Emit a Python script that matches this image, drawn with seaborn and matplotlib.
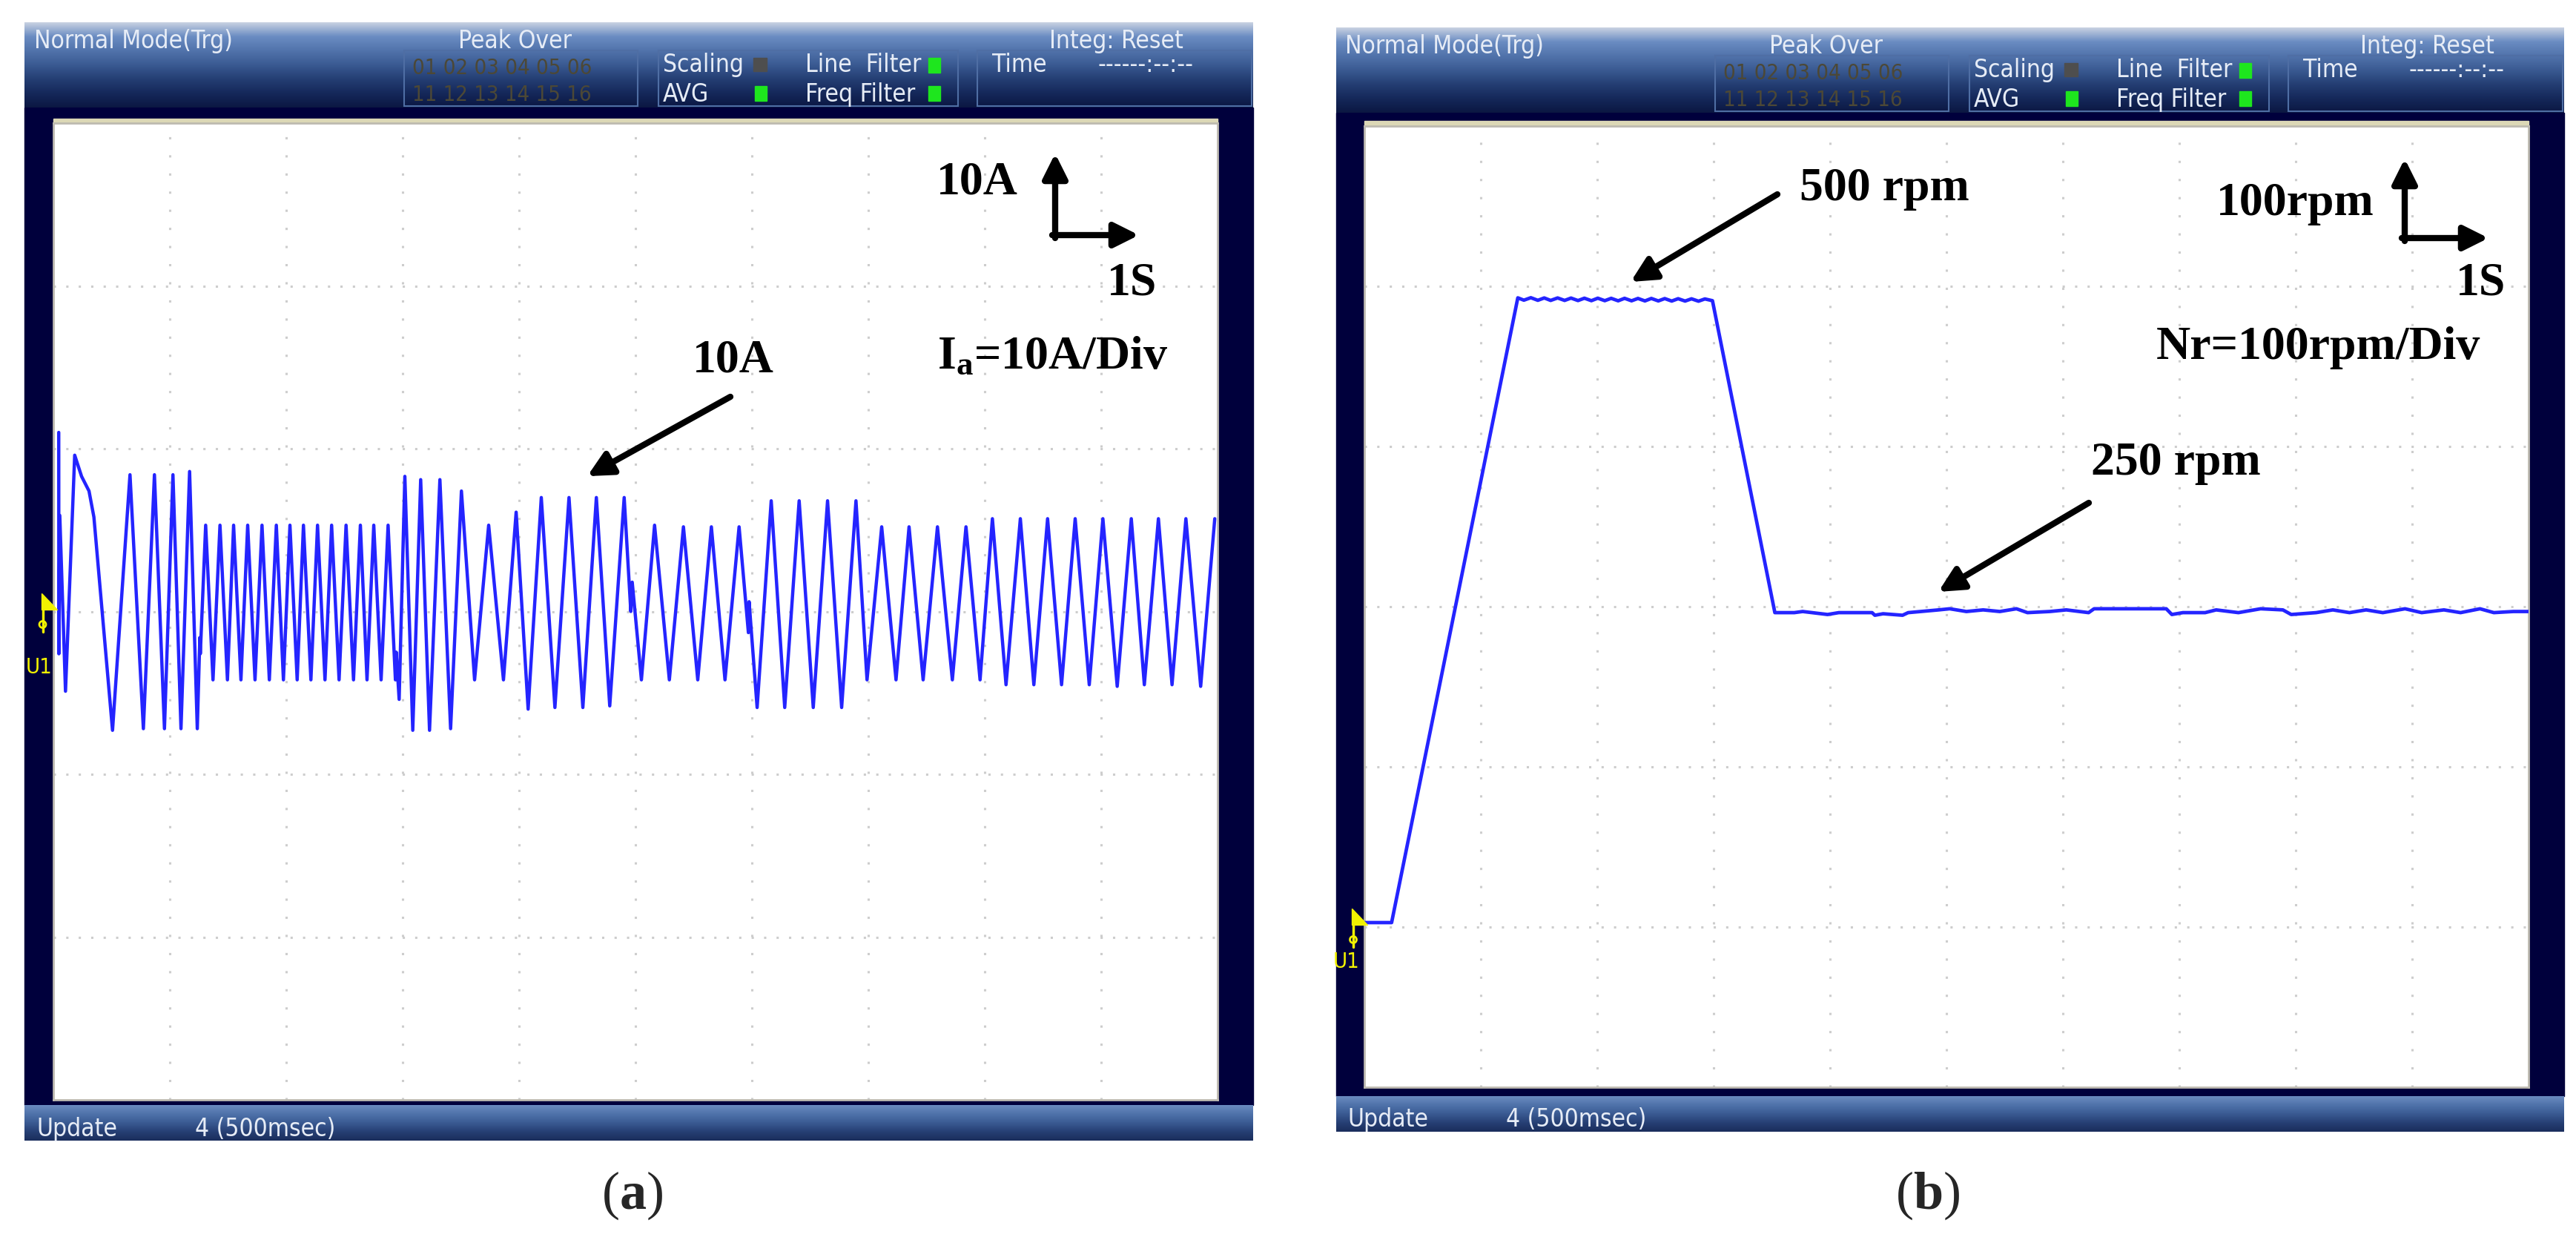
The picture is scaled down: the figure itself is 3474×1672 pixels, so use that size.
import numpy as np
import pandas as pd
import matplotlib
matplotlib.use("Agg")
import matplotlib.pyplot as plt
from matplotlib import font_manager
from matplotlib.font_manager import FontProperties
from matplotlib.colors import LinearSegmentedColormap
from matplotlib.patches import Rectangle, Polygon, Circle
import seaborn as sns

# ---- values read off the two scope screens ----
# (a) phase current, turning points of the trace: time in s (1 s/div), current in A (10 A/div)
current_t = [
    0.046, 0.047, 0.055, 0.104, 0.183, 0.242, 0.306, 0.348, 0.508, 0.658,
    0.773, 0.868, 0.954, 1.027, 1.096, 1.170, 1.236, 1.258, 1.262, 1.308,
    1.371, 1.431, 1.495, 1.548, 1.611, 1.669, 1.732, 1.792, 1.855, 1.915,
    1.976, 2.032, 2.094, 2.148, 2.212, 2.269, 2.333, 2.390, 2.454, 2.514,
    2.578, 2.637, 2.694, 2.752, 2.815, 2.875, 2.938, 2.945, 2.970, 3.019,
    3.087, 3.155, 3.231, 3.320, 3.412, 3.505, 3.618, 3.739, 3.866, 3.975,
    4.078, 4.191, 4.308, 4.429, 4.548, 4.664, 4.779, 4.903, 4.960, 4.972,
    5.051, 5.164, 5.291, 5.412, 5.535, 5.652, 5.769, 5.890, 5.970, 5.976,
    6.045, 6.166, 6.282, 6.406, 6.527, 6.650, 6.771, 6.894, 6.989, 7.115,
    7.238, 7.350, 7.471, 7.594, 7.722, 7.839, 7.960, 8.066, 8.183, 8.306,
    8.422, 8.540, 8.660, 8.777, 8.898, 9.015, 9.138, 9.259, 9.371, 9.492,
    9.609, 9.728, 9.855, 9.976,
]
current_a = [
    11.0, -2.6, 5.9, -4.9, 9.6, 8.3, 7.4, 5.8, -7.3, 8.4,
    -7.2, 8.4, -7.2, 8.4, -7.2, 8.6, -7.2, -1.6, -2.6, 5.3,
    -4.2, 5.3, -4.2, 5.3, -4.2, 5.3, -4.2, 5.3, -4.2, 5.3,
    -4.2, 5.3, -4.2, 5.3, -4.2, 5.3, -4.2, 5.3, -4.2, 5.3,
    -4.2, 5.3, -4.2, 5.3, -4.2, 5.3, -4.2, -2.5, -5.4, 8.3,
    -7.3, 8.1, -7.3, 8.1, -7.2, 7.4, -4.2, 5.3, -4.2, 6.1,
    -6.0, 7.0, -5.9, 7.0, -5.9, 7.0, -5.8, 7.0, 0.0, 1.8,
    -4.2, 5.3, -4.2, 5.2, -4.2, 5.2, -4.2, 5.2, -1.3, 0.6,
    -5.9, 6.8, -5.9, 6.8, -5.9, 6.8, -5.9, 6.8, -4.2, 5.2,
    -4.2, 5.2, -4.2, 5.2, -4.2, 5.2, -4.2, 5.7, -4.5, 5.7,
    -4.5, 5.7, -4.5, 5.7, -4.5, 5.7, -4.6, 5.7, -4.5, 5.7,
    -4.5, 5.7, -4.6, 5.7,
]

# (b) rotor speed: time in s, speed in rpm
speed_t = [
    0.0, 0.234,
    1.318, 1.37, 1.43, 1.49, 1.545, 1.60, 1.66, 1.72, 1.775, 1.835,
    1.89, 1.95, 2.005, 2.065, 2.12, 2.18, 2.235, 2.295, 2.35, 2.41,
    2.465, 2.525, 2.58, 2.64, 2.695, 2.755, 2.81, 2.87, 2.925, 2.99,
    3.526, 3.693, 3.765, 3.979, 4.075, 4.361, 4.385, 4.456, 4.623, 4.671,
    4.933, 5.028, 5.171, 5.315, 5.458, 5.601, 5.696, 5.887, 6.030, 6.221,
    6.268, 6.888, 6.936, 7.031, 7.222, 7.317, 7.508, 7.699, 7.890, 7.961,
    8.176, 8.319, 8.462, 8.605, 8.748, 8.939, 9.082, 9.273, 9.416, 9.583,
    9.702, 9.869, 10.0,
]
speed_rpm = [
    0.0, 0.0,
    501.3, 499.4, 501.4, 499.3, 501.2, 499.2, 501.2, 499.2, 501.1, 499.1,
    501.0, 499.0, 501.0, 499.0, 500.9, 498.9, 500.9, 498.9, 500.8, 498.8,
    500.8, 498.8, 500.7, 498.7, 500.6, 498.7, 500.5, 498.6, 500.4, 499.0,
    248.7, 248.7, 249.6, 247.2, 248.7, 248.7, 246.6, 247.8, 246.6, 248.7,
    250.9, 251.8, 249.6, 250.9, 249.6, 251.8, 248.7, 249.6, 250.9, 248.7,
    251.8, 251.8, 247.2, 248.7, 248.7, 250.9, 248.7, 251.8, 250.9, 247.2,
    248.7, 250.9, 248.7, 250.9, 248.7, 251.8, 248.7, 250.9, 248.7, 251.8,
    248.7, 249.6, 249.6,
]

# screen limits: 10 div of 1 s, 6 div vertically
xlim = (0, 10)
ylim_a = (-30, 30)
ylim_b = (-132.1, 639.1)

# annotation targets (data coords)
peak_a = (4.586, 8.31)
peak_b_hi = (2.287, 514.1)
peak_b_lo = (4.93, 265.4)

W, H = 3474, 1672
NAVY = "#00003c"
TXT = "#e6ecf6"
YEL = "#f2f200"
TRACE = "#2424ff"

sns.set_style("white")
plt.rcParams["font.family"] = ["DejaVu Sans"]
plt.rcParams["mathtext.fontset"] = "custom"
plt.rcParams["mathtext.rm"] = "Liberation Serif"
plt.rcParams["mathtext.bf"] = "Liberation Serif:bold"
plt.rcParams["mathtext.it"] = "Liberation Serif:italic"

# the scope uses a narrow sans; take a condensed face if one is installed
narrow = [f for f in font_manager.fontManager.ttflist
          if ("Narrow" in f.name or "Condensed" in f.name
              or f.stretch in ("condensed", "semi-condensed", "extra-condensed"))
          and f.style == "normal" and f.weight in (400, "normal", "regular")]
if narrow:
    HFILE, HSIZE = narrow[0].fname, 24
else:
    HFILE, HSIZE = font_manager.findfont("Liberation Sans"), 20
SERIF = "Liberation Serif"

fig = plt.figure(figsize=(W / 100, H / 100), dpi=100)
fig.patch.set_facecolor("white")

bg = fig.add_axes([0, 0, 1, 1], zorder=0)
bg.set_axis_off()

head_cmap = LinearSegmentedColormap.from_list(
    "head", ["#c9d2e2", "#6a8cc2", "#5173ab", "#3a5a92", "#243e73", "#15285a", "#0b1742"])
bar_cmap = LinearSegmentedColormap.from_list(
    "bar", ["#6b8cc0", "#4f72aa", "#3a5a92", "#263f74", "#1a2d5c"])


def vgrad(ax, x0, x1, y0, y1, cmap):
    grad = np.linspace(0, 1, 256).reshape(-1, 1)
    ax.imshow(grad, cmap=cmap, extent=(x0, x1, y1, y0), aspect="auto",
              origin="upper", interpolation="bilinear", zorder=1)


def htext(ax, x, y, s, size=None, **kw):
    kw.setdefault("color", TXT)
    fp = FontProperties(fname=HFILE, size=size or HSIZE)
    ax.text(x, y, s, fontproperties=fp, va="baseline", zorder=5, **kw)


def draw_frame(ax, fx0, fx1, hy0, hy1, by0, by1, dx, dyh, dyb):
    # navy body, header and footer bars
    ax.add_patch(Rectangle((fx0, hy1), fx1 - fx0, by0 - hy1, color=NAVY, zorder=0))
    vgrad(ax, fx0, fx1, hy0, hy1, head_cmap)
    vgrad(ax, fx0, fx1, by0, by1, bar_cmap)
    # header boxes
    for bx0, bx1 in [(545, 860), (888, 1292), (1318, 1694)]:
        x1 = min(bx1 + dx, fx1 - 2)
        ax.add_patch(Rectangle((bx0 + dx, 68 + dyh), x1 - bx0 - dx, hy1 - 70 - dyh,
                               fill=False, ec="#4f6ea4", lw=1.5, zorder=2))
    htext(ax, 46 + dx, 65 + dyh, "Normal Mode(Trg)")
    htext(ax, 694 + dx, 65 + dyh, "Peak Over", ha="center")
    htext(ax, 1415 + dx, 65 + dyh, "Integ: Reset")
    htext(ax, 556 + dx, 100 + dyh, "01 02 03 04 05 06", size=HSIZE - 3, color="#4c4836")
    htext(ax, 556 + dx, 136 + dyh, "11 12 13 14 15 16", size=HSIZE - 3, color="#4c4836")
    htext(ax, 894 + dx, 97 + dyh, "Scaling")
    htext(ax, 894 + dx, 137 + dyh, "AVG")
    htext(ax, 1086 + dx, 97 + dyh, "Line  Filter")
    htext(ax, 1086 + dx, 137 + dyh, "Freq Filter")
    htext(ax, 1338 + dx, 97 + dyh, "Time")
    htext(ax, 1480 + dx, 97 + dyh, "------:--:--")
    ax.add_patch(Rectangle((1016 + dx, 78 + dyh), 18, 18, color="#4e4e4e", zorder=4))
    for ix, iy in [(1018, 116), (1252, 78), (1252, 116)]:
        ax.add_patch(Rectangle((ix + dx, iy + dyh), 16, 20, color="#1ee61e", zorder=4))
    htext(ax, 49 + dx, 1532 + dyb, "Update")
    htext(ax, 263 + dx, 1532 + dyb, "4 (500msec)")


draw_frame(bg, 33, 1690, 30, 145, 1490, 1538, 0, 0, 0)
draw_frame(bg, 1802, 3458, 37, 152, 1478, 1526, 1768, 7, -13)
# beige strip along the top of each screen
bg.add_patch(Rectangle((72, 160), 1570, 7, color="#dcd8b6", zorder=2))
bg.add_patch(Rectangle((1840, 163), 1570, 7, color="#dcd8b6", zorder=2))
bg.set_xlim(0, W)
bg.set_ylim(H, 0)


def px_axes(x0, x1, y0, y1):
    return fig.add_axes([x0 / W, 1 - y1 / H, (x1 - x0) / W, (y1 - y0) / H], zorder=2)


def screen(ax, ylim):
    ax.set_facecolor("white")
    ax.set_xlim(*xlim)
    ax.set_ylim(*ylim)
    for v in range(1, 10):
        ax.axvline(v, color="#cdcdcd", lw=2.2, ls=(0, (1, 7)), zorder=1)
    for v in np.linspace(ylim[0], ylim[1], 7)[1:-1]:
        ax.axhline(v, color="#cdcdcd", lw=2.2, ls=(0, (1, 4.5)), zorder=1)
    ax.set_xticks([])
    ax.set_yticks([])
    ax.set_xlabel("")
    ax.set_ylabel("")
    for sp in ax.spines.values():
        sp.set_color("#bdbab0")
        sp.set_linewidth(2)


ax_a = px_axes(72, 1642, 166, 1483)
ax_b = px_axes(1840, 3410, 170, 1466)

df_a = pd.DataFrame({"t": current_t, "i": current_a})
df_b = pd.DataFrame({"t": speed_t, "n": speed_rpm})
sns.lineplot(data=df_a, x="t", y="i", ax=ax_a, estimator=None, sort=False,
             color=TRACE, lw=3.2, legend=False, zorder=3)
sns.lineplot(data=df_b, x="t", y="n", ax=ax_b, estimator=None, sort=False,
             color=TRACE, lw=3.4, legend=False, zorder=3)
screen(ax_a, ylim_a)
screen(ax_b, ylim_b)

# ---- overlay: markers, annotations and captions (pixel coordinates) ----
fg = fig.add_axes([0, 0, 1, 1], zorder=5)
fg.set_axis_off()
fg.patch.set_alpha(0)
fg.set_xlim(0, W)
fg.set_ylim(H, 0)


def trig_marker(x, y, lx, ly):
    fg.add_patch(Polygon([(x, y - 22), (x, y), (x + 21, y)], closed=True, color=YEL))
    fg.plot([x + 2, x + 2], [y, y + 30], color=YEL, lw=2.5)
    fg.add_patch(Circle((x + 2, y + 20), 4.5, fill=False, ec=YEL, lw=2))
    fg.text(lx, ly, "U1", color=YEL, fontproperties=FontProperties(fname=HFILE, size=21, weight="bold"),
            ha="center", va="center")


trig_marker(55.5, 822, 52.5, 900)
trig_marker(1823, 1247, 1816, 1297)

ARW = dict(arrowstyle="-|>", color="black", lw=6, shrinkA=0, shrinkB=0, mutation_scale=50)


def scale_arrows(cx, cy, up_y, right_x):
    fg.annotate("", xy=(cx, up_y), xytext=(cx, cy + 4), arrowprops=ARW)
    fg.annotate("", xy=(right_x, cy), xytext=(cx - 4, cy), arrowprops=ARW)


def label(x, y, s, ha="left", size=46):
    fg.text(x, y, s, fontfamily=SERIF, fontweight="bold", fontsize=size,
            ha=ha, va="baseline", color="black")


# panel (a)
label(1318, 262, "10A", ha="center")
scale_arrows(1423, 317, 207, 1536)
label(1527, 397, "1S", ha="center")
label(1264, 497, r"I$_{\mathbf{a}}$=10A/Div")
label(989, 501, "10A", ha="center")
fg.annotate("", xy=peak_a, xycoords=ax_a.transData, xytext=(985, 535),
            textcoords="data", arrowprops=ARW)

# panel (b)
label(2427, 270, "500 rpm")
fg.annotate("", xy=peak_b_hi, xycoords=ax_b.transData, xytext=(2397, 262),
            textcoords="data", arrowprops=ARW)
label(2989, 290, "100rpm")
scale_arrows(3243, 321, 214, 3356)
label(3346, 397, "1S", ha="center")
label(2908, 484, "Nr=100rpm/Div")
label(2820, 640, "250 rpm")
fg.annotate("", xy=peak_b_lo, xycoords=ax_b.transData, xytext=(2817, 678),
            textcoords="data", arrowprops=ARW)

# captions
fg.text(853, 1630, r"($\mathbf{a}$)", fontfamily=SERIF, fontsize=52, ha="center", va="baseline")
fg.text(2600, 1630, r"($\mathbf{b}$)", fontfamily=SERIF, fontsize=52, ha="center", va="baseline")

fig.savefig("out.png", dpi=100, facecolor="white")
